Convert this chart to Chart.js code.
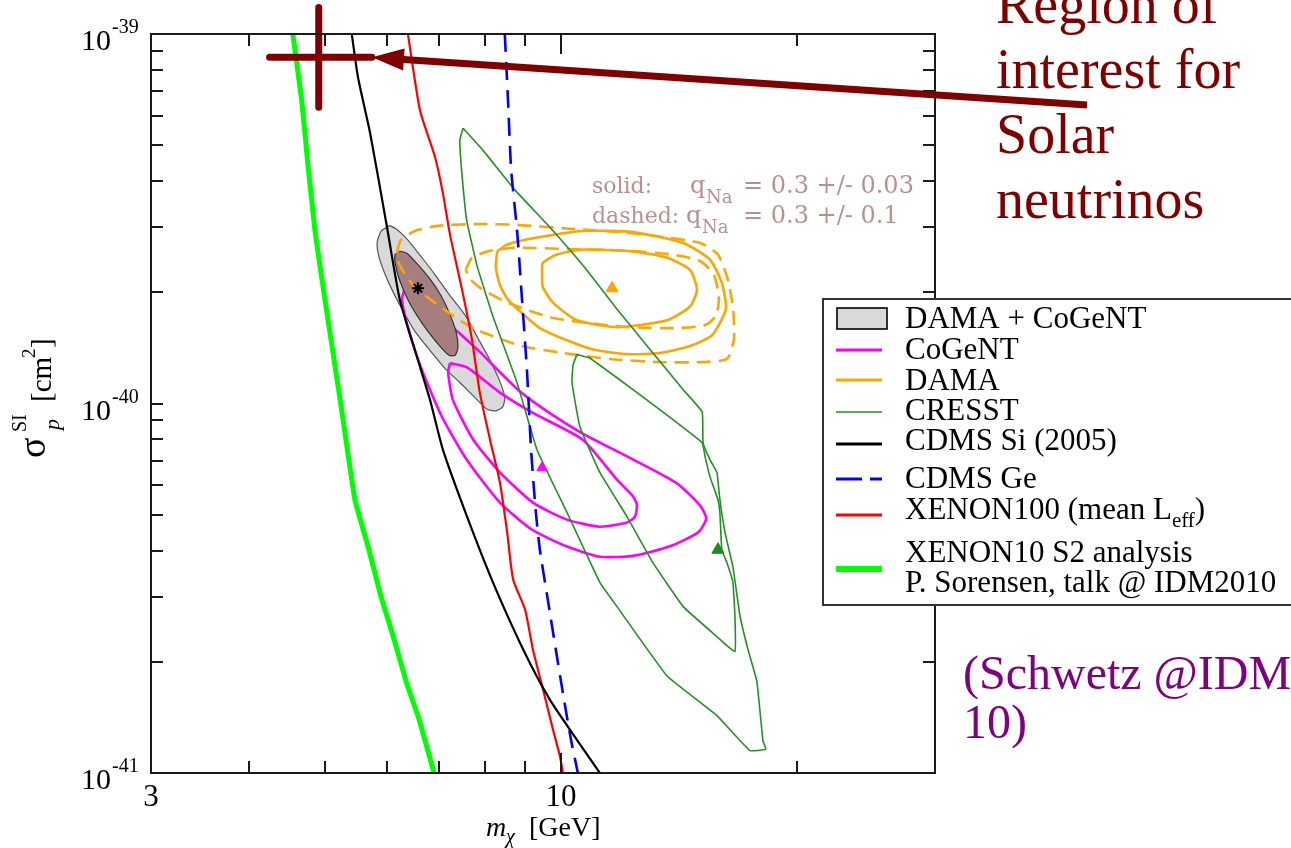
<!DOCTYPE html>
<html>
<head>
<meta charset="utf-8">
<script src="https://cdn.jsdelivr.net/npm/chart.js@4.4.1/dist/chart.umd.min.js"></script>
<style>
  html, body { margin: 0; padding: 0; background: #fff; }
  #wrap { width: 1291px; height: 848px; position: relative; }
</style>
</head>
<body>
<div id="wrap"><canvas id="limitsChart"></canvas></div>
<script>
// WIMP mass m_chi [GeV] and SI cross section.
// Cross sections are given in units of 1e-40 cm^2.

// XENON10 S2 analysis (thick light green)
const xenon10Mass = [4.55, 4.67, 4.76, 4.86, 5.00, 5.23, 5.46, 5.69, 5.90, 6.09, 6.35, 6.59, 6.89];
const xenon10Sigma = [10.0, 6.62, 4.36, 2.89, 1.91, 1.02, 0.549, 0.402, 0.298, 0.240, 0.176, 0.140, 0.100];

// CDMS Si (2005)
const cdmsSiMass = [5.41, 5.51, 5.71, 6.00, 6.23, 6.55, 6.81, 7.07, 7.59, 8.19, 8.95, 9.68, 10.48, 11.21];
const cdmsSiSigma = [10.0, 7.64, 5.39, 3.00, 1.91, 1.34, 1.02, 0.750, 0.494, 0.328, 0.216, 0.158, 0.123, 0.100];

// XENON100 (mean Leff)
const xenon100Mass = [6.38, 6.61, 6.91, 7.07, 7.22, 7.48, 7.70, 7.88, 8.12, 8.36, 8.54, 8.69, 9.00, 9.21, 9.49, 9.77, 9.97, 10.06];
const xenon100Sigma = [10.0, 6.22, 4.64, 3.71, 2.86, 2.03, 1.49, 1.07, 0.798, 0.610, 0.447, 0.334, 0.277, 0.216, 0.168, 0.131, 0.111, 0.100];

// CDMS Ge
const cdmsGeMass = [8.48, 8.56, 8.64, 8.79, 8.92, 9.05, 9.16, 9.29, 9.40, 9.62, 9.85, 10.09, 10.30, 10.51];
const cdmsGeSigma = [10.0, 6.62, 4.28, 2.95, 1.91, 1.23, 0.750, 0.507, 0.402, 0.295, 0.216, 0.158, 0.123, 0.100];

// DAMA + CoGeNT combined regions (outer grey, inner brown)
const comboOuterMass = [6.05, 6.16, 6.36, 6.65, 6.91, 7.18, 7.54, 7.84, 8.12, 8.36, 8.48, 8.43, 8.26, 8.04, 7.77, 7.43, 7.11, 6.81, 6.51, 6.28, 6.09, 5.95, 5.85, 5.83, 5.90, 6.05];
const comboOuterSigma = [3.03, 2.97, 2.79, 2.48, 2.23, 1.99, 1.74, 1.50, 1.31, 1.146, 1.037, 0.979, 0.955, 0.967, 1.037, 1.14, 1.245, 1.39, 1.57, 1.79, 2.03, 2.27, 2.53, 2.74, 2.93, 3.03];
const comboInnerMass = [6.14, 6.23, 6.36, 6.57, 6.81, 7.03, 7.22, 7.35, 7.39, 7.33, 7.20, 6.95, 6.65, 6.38, 6.21, 6.14, 6.14];
const comboInnerSigma = [2.53, 2.58, 2.55, 2.375, 2.17, 1.96, 1.74, 1.56, 1.42, 1.35, 1.35, 1.46, 1.65, 1.91, 2.19, 2.42, 2.53];

// CoGeNT contours
const cogentOuterMass = [6.46, 6.81, 7.11, 7.37, 7.88, 8.36, 8.87, 9.54, 10.66, 12.36, 14.07, 15.05, 15.32, 14.96, 13.74, 12.36, 11.21, 10.18, 9.18, 8.36, 7.58, 7.05, 6.65, 6.38, 6.27, 6.32, 6.46];
const cogentOuterSigma = [2.09, 1.85, 1.68, 1.57, 1.38, 1.215, 1.077, 0.961, 0.829, 0.705, 0.607, 0.529, 0.488, 0.448, 0.410, 0.387, 0.385, 0.410, 0.456, 0.539, 0.705, 0.921, 1.23, 1.61, 1.91, 2.03, 2.09];
const cogentInnerMass = [7.22, 7.58, 8.36, 9.21, 10.66, 11.79, 12.36, 12.50, 12.43, 12.14, 11.21, 10.18, 9.21, 8.36, 7.73, 7.28, 7.18, 7.22];
const cogentInnerSigma = [1.286, 1.254, 1.07, 0.943, 0.798, 0.622, 0.560, 0.532, 0.494, 0.476, 0.464, 0.485, 0.539, 0.651, 0.798, 1.023, 1.215, 1.286];

// DAMA contours: solid q_Na = 0.3 +/- 0.03, dashed q_Na = 0.3 +/- 0.1
const damaSolidInnerMass = [9.46, 9.48, 9.88, 10.66, 12.36, 13.66, 14.61, 14.91, 14.61, 13.66, 11.79, 10.48, 9.77, 9.48, 9.46];
const damaSolidInnerSigma = [2.26, 2.40, 2.53, 2.61, 2.58, 2.48, 2.30, 2.03, 1.83, 1.68, 1.61, 1.68, 1.875, 2.07, 2.26];
const damaSolidOuterMass = [8.29, 8.53, 9.21, 10.66, 12.36, 14.32, 15.49, 16.04, 16.23, 15.58, 14.61, 13.38, 12.14, 10.99, 10.12, 9.40, 8.92, 8.56, 8.36, 8.26, 8.29];
const damaSolidOuterSigma = [2.58, 2.69, 2.80, 2.93, 2.91, 2.72, 2.45, 2.12, 1.80, 1.53, 1.43, 1.37, 1.36, 1.40, 1.49, 1.60, 1.756, 1.91, 2.09, 2.33, 2.58];
const damaDashInnerMass = [7.56, 7.70, 8.12, 8.79, 10.18, 12.14, 13.86, 15.05, 15.67, 15.90, 15.77, 15.27, 14.07, 12.14, 10.89, 9.82, 9.13, 8.43, 7.93, 7.66, 7.56];
const damaDashInnerSigma = [2.30, 2.48, 2.59, 2.64, 2.62, 2.59, 2.53, 2.43, 2.23, 1.93, 1.73, 1.63, 1.60, 1.61, 1.65, 1.70, 1.78, 1.90, 2.04, 2.17, 2.30];
const damaDashOuterMass = [6.18, 6.25, 6.51, 7.01, 7.88, 8.79, 10.27, 11.89, 13.38, 15.05, 15.86, 16.33, 16.58, 16.62, 16.28, 15.05, 13.38, 11.55, 10.06, 8.87, 7.88, 7.43, 6.91, 6.53, 6.30, 6.19, 6.18];
const damaDashOuterSigma = [2.58, 2.77, 2.93, 3.03, 3.06, 3.045, 2.97, 2.91, 2.83, 2.72, 2.53, 2.16, 1.80, 1.49, 1.32, 1.294, 1.294, 1.32, 1.37, 1.435, 1.57, 1.68, 1.875, 2.05, 2.27, 2.45, 2.58];

// CRESST contours
const cresstOuterMass = [7.50, 7.95, 8.74, 9.68, 10.73, 11.79, 12.99, 14.32, 15.14, 15.18, 15.49, 15.81, 15.95, 16.19, 16.57, 16.92, 17.32, 17.78, 18.10, 18.26, 17.42, 15.81, 13.66, 11.79, 11.21, 10.18, 9.32, 8.79, 8.19, 7.82, 7.58, 7.47, 7.43, 7.50];
const cresstOuterSigma = [5.56, 4.85, 3.78, 3.00, 2.33, 1.80, 1.40, 1.09, 0.949, 0.783, 0.705, 0.651, 0.549, 0.448, 0.362, 0.266, 0.216, 0.177, 0.122, 0.116, 0.115, 0.143, 0.183, 0.282, 0.328, 0.507, 0.750, 1.14, 1.72, 2.35, 3.14, 4.28, 5.16, 5.56];
const cresstInnerMass = [10.48, 10.89, 12.36, 13.90, 15.14, 15.27, 15.49, 15.86, 15.95, 16.04, 16.28, 16.57, 16.67, 16.67, 15.81, 14.32, 13.10, 12.14, 11.21, 10.57, 10.33, 10.36, 10.48];
const cresstInnerSigma = [1.357, 1.326, 1.09, 0.904, 0.783, 0.718, 0.634, 0.549, 0.507, 0.402, 0.371, 0.328, 0.266, 0.213, 0.234, 0.282, 0.371, 0.494, 0.651, 0.866, 1.14, 1.27, 1.357];

// best fit points: DAMA+CoGeNT (star), DAMA, CoGeNT, CRESST (triangles)
const bestFitMass = [6.57, 11.62, 9.46, 15.86];
const bestFitSigma = [2.05, 2.05, 0.670, 0.402];

// solar neutrino region of interest (the big cross)
const roiMass = [4.25, 4.91, 5.74];
const roiSigma = [6.34, 8.65, 11.8];

// axes
const xTickValues = [3, 4, 5, 6, 7, 8, 9, 10, 20, 30];
const xMajorTicks = [10];
const xTickLabels = { 3: '3', 10: '10' };
const yTickValues = [];
[1e-41, 1e-40].forEach(d => { for (let k = 1; k <= 9; k++) yTickValues.push(k * d); });
yTickValues.push(1e-39);
const yLabelExponents = [-41, -40, -39];

const legendLabels = ['DAMA + CoGeNT', 'CoGeNT', 'DAMA', 'CRESST', 'CDMS Si (2005)', 'CDMS Ge',
                      'XENON100 (mean L', 'XENON10 S2 analysis', 'P. Sorensen, talk @ IDM2010'];

const serif = '"Liberation Serif", "Times New Roman", serif';
const ORANGE = '#ffa500', MAGENTA = '#ff00ff', CGREEN = '#229122', LIME = '#00ff00';
const GREYFILL = '#d9d9d9', BROWNFILL = '#a67e7e', MAROON = '#800000';

function pts(mass, sigma) {
    return mass.map((m, i) => ({ x: m, y: sigma[i] * 1e-40 }));
}

function curve(label, mass, sigma, color, width, order, extra) {
    return Object.assign({
        label: label,
        data: pts(mass, sigma),
        borderColor: color,
        backgroundColor: color,
        borderWidth: width,
        pointRadius: 0,
        fill: false,
        tension: 0.2,
        order: order
    }, extra || {});
}

const datasets = [
    // markers on top
    { label: 'DAMA+CoGeNT best fit', data: [{ x: bestFitMass[0], y: bestFitSigma[0] * 1e-40 }],
      showLine: false, pointStyle: 'star', pointRadius: 6, borderWidth: 2, borderColor: '#000', order: 0 },
    { label: 'DAMA best fit', data: [{ x: bestFitMass[1], y: bestFitSigma[1] * 1e-40 }],
      showLine: false, pointStyle: 'triangle', pointRadius: 7, borderWidth: 1, borderColor: ORANGE, backgroundColor: ORANGE, order: 0 },
    { label: 'CoGeNT best fit', data: [{ x: bestFitMass[2], y: bestFitSigma[2] * 1e-40 }],
      showLine: false, pointStyle: 'triangle', pointRadius: 6, borderWidth: 1, borderColor: MAGENTA, backgroundColor: MAGENTA, order: 4.5 },
    { label: 'CRESST best fit', data: [{ x: bestFitMass[3], y: bestFitSigma[3] * 1e-40 }],
      showLine: false, pointStyle: 'triangle', pointRadius: 7, borderWidth: 1, borderColor: '#1f8a1f', backgroundColor: '#1f8a1f', order: 0 },

    // region of interest cross (goes past the top axis)
    { label: 'roi h', data: [{ x: roiMass[0], y: roiSigma[1] * 1e-40 }, { x: roiMass[2], y: roiSigma[1] * 1e-40 }],
      borderColor: MAROON, borderWidth: 7, borderCapStyle: 'round', pointRadius: 0, clip: false, order: 1 },
    { label: 'roi v', data: [{ x: roiMass[1], y: roiSigma[0] * 1e-40 }, { x: roiMass[1], y: roiSigma[2] * 1e-40 }],
      borderColor: MAROON, borderWidth: 7, borderCapStyle: 'round', pointRadius: 0, clip: false, order: 1 },

    curve('CDMS Si (2005)', cdmsSiMass, cdmsSiSigma, '#000', 2.2, 2),
    curve('XENON100', xenon100Mass, xenon100Sigma, '#ff0000', 2.2, 3),
    curve('CDMS Ge', cdmsGeMass, cdmsGeSigma, '#0000ff', 2.6, 4, { borderDash: [18, 10] }),
    curve('CRESST outer', cresstOuterMass, cresstOuterSigma, CGREEN, 1.6, 5, { tension: 0.1 }),
    curve('CRESST inner', cresstInnerMass, cresstInnerSigma, CGREEN, 1.6, 5, { tension: 0.1 }),
    curve('DAMA solid inner', damaSolidInnerMass, damaSolidInnerSigma, ORANGE, 2.6, 6),
    curve('DAMA solid outer', damaSolidOuterMass, damaSolidOuterSigma, ORANGE, 2.6, 6),
    curve('DAMA dashed inner', damaDashInnerMass, damaDashInnerSigma, ORANGE, 2.6, 6, { borderDash: [14, 8] }),
    curve('DAMA dashed outer', damaDashOuterMass, damaDashOuterSigma, ORANGE, 2.6, 6, { borderDash: [14, 8] }),
    curve('DAMA+CoGeNT inner', comboInnerMass, comboInnerSigma, '#333', 1.2, 7,
          { fill: 'shape', backgroundColor: BROWNFILL }),
    curve('CoGeNT outer', cogentOuterMass, cogentOuterSigma, MAGENTA, 2.6, 8),
    curve('CoGeNT inner', cogentInnerMass, cogentInnerSigma, MAGENTA, 2.6, 8),
    curve('DAMA+CoGeNT outer', comboOuterMass, comboOuterSigma, '#555', 1.2, 9,
          { fill: 'shape', backgroundColor: GREYFILL }),
    curve('XENON10 S2', xenon10Mass, xenon10Sigma, LIME, 5, 10, { tension: 0.1 })
];

// frame, inward ticks, tick labels and axis titles
const framePlugin = {
    id: 'frame',
    afterDraw(chart) {
        const ctx = chart.ctx, a = chart.chartArea;
        const xs = chart.scales.x, ys = chart.scales.y;
        ctx.save();
        ctx.strokeStyle = '#1a1a1a';
        ctx.lineWidth = 2;
        ctx.strokeRect(a.left, a.top, a.right - a.left, a.bottom - a.top);
        ctx.beginPath();
        xTickValues.forEach(v => {
            const px = Math.round(xs.getPixelForValue(v));
            const len = xMajorTicks.includes(v) ? 20 : 12;
            ctx.moveTo(px, a.bottom); ctx.lineTo(px, a.bottom - len);
            ctx.moveTo(px, a.top); ctx.lineTo(px, a.top + len);
        });
        yTickValues.forEach(v => {
            const py = Math.round(ys.getPixelForValue(v));
            ctx.moveTo(a.left, py); ctx.lineTo(a.left + 12, py);
            ctx.moveTo(a.right, py); ctx.lineTo(a.right - 12, py);
        });
        ctx.stroke();

        ctx.fillStyle = '#000';
        ctx.textBaseline = 'alphabetic';
        // x tick labels
        ctx.font = '31px ' + serif;
        ctx.textAlign = 'center';
        Object.keys(xTickLabels).forEach(k => {
            ctx.fillText(xTickLabels[k], xs.getPixelForValue(Number(k)), a.bottom + 33);
        });
        // y tick labels 10^n
        yLabelExponents.forEach(e => {
            const py = ys.getPixelForValue(Math.pow(10, e));
            ctx.font = '30px ' + serif;
            ctx.textAlign = 'right';
            ctx.fillText('10', 111, py + 16);
            ctx.font = '20px ' + serif;
            ctx.textAlign = 'left';
            ctx.fillText(String(e), 112, py - 1);
        });

        // x title: m_chi [GeV]
        ctx.textAlign = 'left';
        ctx.font = 'italic 28px ' + serif;
        ctx.fillText('m', 486, 836);
        ctx.font = 'italic 20px ' + serif;
        ctx.fillText('\u03c7', 506, 843);
        ctx.font = '28px ' + serif;
        ctx.fillText('[GeV]', 529, 836);

        // y title: sigma_p^SI [cm^2]
        ctx.translate(48, 458);
        ctx.rotate(-Math.PI / 2);
        ctx.font = '38px ' + serif;
        ctx.fillText('\u03c3', 0, -3);
        ctx.font = '20px ' + serif;
        ctx.fillText('SI', 26, -22);
        ctx.font = 'italic 22px ' + serif;
        ctx.fillText('p', 28, 11);
        ctx.font = '29px ' + serif;
        ctx.fillText('[cm', 56, 3);
        ctx.font = '19px ' + serif;
        ctx.fillText('2', 100, -13);
        ctx.font = '29px ' + serif;
        ctx.fillText(']', 110, 3);
        ctx.restore();
    }
};

// legend box and the text notes
const notesPlugin = {
    id: 'notes',
    afterDraw(chart) {
        const ctx = chart.ctx;
        const xs = chart.scales.x, ys = chart.scales.y;
        ctx.save();

        // legend
        ctx.fillStyle = '#fff';
        ctx.fillRect(823, 299, 480, 306);
        ctx.strokeStyle = '#333';
        ctx.lineWidth = 2;
        ctx.strokeRect(823, 299, 480, 306);

        ctx.fillStyle = GREYFILL;
        ctx.fillRect(837, 308, 50, 21);
        ctx.strokeStyle = '#000';
        ctx.lineWidth = 1.6;
        ctx.strokeRect(837, 308, 50, 21);

        const sample = (y, color, width, dash) => {
            ctx.beginPath();
            ctx.strokeStyle = color;
            ctx.lineWidth = width;
            ctx.setLineDash(dash || []);
            ctx.moveTo(836, y); ctx.lineTo(882, y);
            ctx.stroke();
            ctx.setLineDash([]);
        };
        sample(350, MAGENTA, 3);
        sample(380, ORANGE, 3);
        sample(412, CGREEN, 1.6);
        sample(444, '#000', 3);
        sample(479, '#0000ff', 3, [26, 8]);
        sample(515, '#ff0000', 3);
        sample(569, LIME, 6);

        ctx.fillStyle = '#000';
        ctx.textAlign = 'left';
        ctx.textBaseline = 'alphabetic';
        ctx.font = '31px ' + serif;
        const base = [328, 359, 390, 420, 450, 488, 519, 562, 592];
        legendLabels.forEach((t, i) => ctx.fillText(t, 905, base[i]));
        const w = ctx.measureText(legendLabels[6]).width;
        ctx.font = '21px ' + serif;
        ctx.fillText('eff', 905 + w, base[6] + 8);
        const w2 = ctx.measureText('eff').width;
        ctx.font = '31px ' + serif;
        ctx.fillText(')', 905 + w + w2, base[6]);

        // q_Na note
        const dj = '"DejaVu Serif", serif';
        ctx.fillStyle = '#bc8f8f';
        ctx.font = '22px ' + dj;
        ctx.fillText('solid:', 592, 193);
        ctx.fillText('dashed:', 592, 223);
        ctx.font = '24px ' + dj;
        ctx.fillText('q', 690, 193);
        ctx.fillText('= 0.3 +/- 0.03', 743, 193);
        ctx.fillText('q', 686, 223);
        ctx.fillText('= 0.3 +/- 0.1', 743, 223);
        ctx.font = '18px ' + dj;
        ctx.fillText('Na', 706, 203);
        ctx.fillText('Na', 702, 233);

        // region of interest note with arrow
        ctx.fillStyle = MAROON;
        ctx.font = '56px ' + serif;
        ['Region of', 'interest for', 'Solar', 'neutrinos'].forEach((t, i) => ctx.fillText(t, 996, 23 + 65 * i));

        const tipX = xs.getPixelForValue(roiMass[2]);
        const tipY = ys.getPixelForValue(roiSigma[1] * 1e-40);
        const tailX = 1087, tailY = 105;
        const ang = Math.atan2(tailY - tipY, tailX - tipX);
        const hl = 32, hw = 11;
        const bx = tipX + Math.cos(ang) * hl, by = tipY + Math.sin(ang) * hl;
        ctx.strokeStyle = MAROON;
        ctx.lineWidth = 7;
        ctx.beginPath();
        ctx.moveTo(bx - Math.cos(ang) * 4, by - Math.sin(ang) * 4);
        ctx.lineTo(tailX, tailY);
        ctx.stroke();
        ctx.beginPath();
        ctx.moveTo(tipX, tipY);
        ctx.lineTo(bx - Math.sin(ang) * hw, by + Math.cos(ang) * hw);
        ctx.lineTo(bx + Math.sin(ang) * hw, by - Math.cos(ang) * hw);
        ctx.closePath();
        ctx.fill();

        // citation
        ctx.fillStyle = '#800080';
        ctx.font = '48px ' + serif;
        ctx.fillText('(Schwetz @IDM', 963, 689);
        ctx.fillText('10)', 963, 738);
        ctx.restore();
    }
};

const chart = new Chart(document.getElementById('limitsChart'), {
    type: 'line',
    data: { datasets: datasets },
    options: {
        responsive: true,
        maintainAspectRatio: false,
        animation: false,
        events: [],
        layout: { padding: { top: 34, right: 356, left: 0, bottom: 0 } },
        scales: {
            x: {
                type: 'logarithmic',
                min: 3,
                max: 30,
                grid: { display: false },
                border: { display: false },
                ticks: { display: false },
                afterFit: s => { s.height = 75; }
            },
            y: {
                type: 'logarithmic',
                min: 1e-41,
                max: 1e-39,
                grid: { display: false },
                border: { display: false },
                ticks: { display: false },
                afterFit: s => { s.width = 151; }
            }
        },
        plugins: {
            legend: { display: false },
            tooltip: { enabled: false }
        }
    },
    plugins: [framePlugin, notesPlugin]
});
</script>
</body>
</html>
